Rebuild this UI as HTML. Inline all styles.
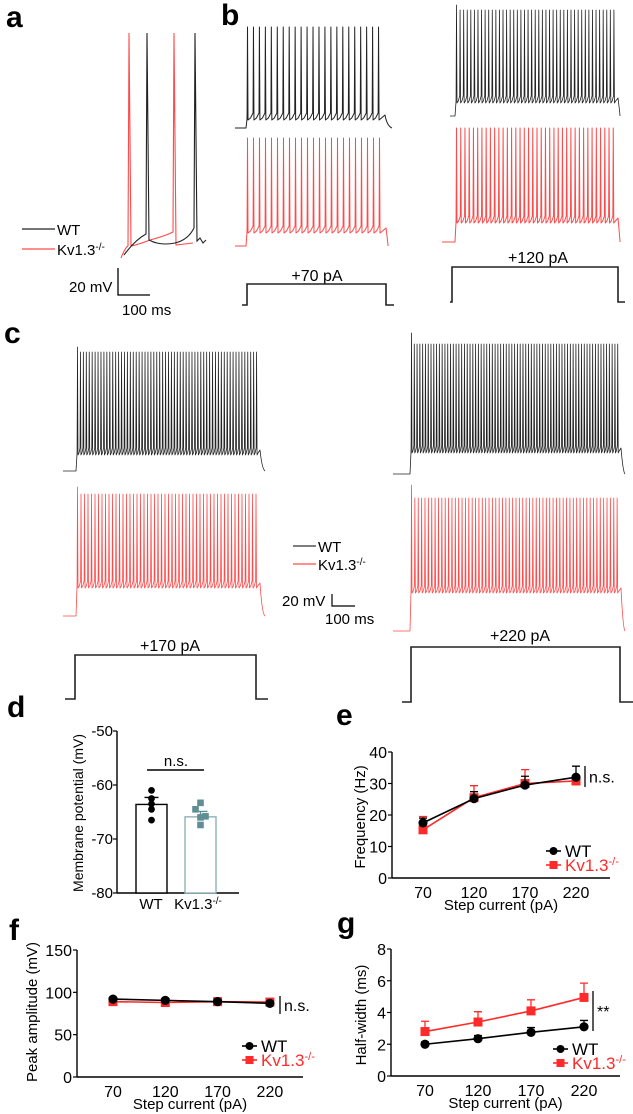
<!DOCTYPE html>
<html><head><meta charset="utf-8"><style>
html,body{margin:0;padding:0;background:#fff;}
svg{display:block;font-family:"Liberation Sans",Arial,sans-serif;}
</style></head><body>
<svg id="fig" width="633" height="1114" viewBox="0 0 633 1114" xmlns="http://www.w3.org/2000/svg">
<g font-weight="bold" font-size="30" fill="#000">
<text x="6" y="27">a</text>
<text x="221" y="25">b</text>
<text x="4" y="343">c</text>
<text x="7" y="717">d</text>
<text x="336" y="725">e</text>
<text x="9" y="940">f</text>
<text x="337" y="933">g</text>
</g>
<g font-size="15">
<line x1="22" y1="229" x2="55" y2="229" stroke="#222" stroke-width="1.3"/>
<text x="57" y="235">WT</text>
<line x1="22" y1="249" x2="55" y2="249" stroke="#ff4a4a" stroke-width="1.3"/>
<text x="57" y="255">Kv1.3<tspan dy="-5" font-size="10">-/-</tspan></text>
</g>
<g font-size="15">
<text x="69" y="292">20 mV</text>
<path d="M118,268 V295 H150" fill="none" stroke="#000" stroke-width="1.3"/>
<text x="122" y="315">100 ms</text>
</g>
<g font-size="15">
<line x1="293" y1="546" x2="316" y2="546" stroke="#333" stroke-width="1.3"/>
<text x="318" y="552">WT</text>
<line x1="293" y1="564" x2="316" y2="564" stroke="#ff4a4a" stroke-width="1.3"/>
<text x="318" y="570">Kv1.3<tspan dy="-5" font-size="10">-/-</tspan></text>
</g>
<g font-size="15">
<text x="282" y="606">20 mV</text>
<path d="M332,594 V606 H355" fill="none" stroke="#000" stroke-width="1.2"/>
<text x="325" y="624">100 ms</text>
</g>
<g font-size="16" text-anchor="middle">
<text x="317" y="281">+70 pA</text>
<text x="538" y="263">+120 pA</text>
<text x="170" y="651">+170 pA</text>
<text x="520" y="641">+220 pA</text>
</g>
<g id="traces"></g>
<g id="charts"></g>
</svg>
<script>
var traceNames = ['b-70-wt','b-70-ko','b-120-wt','b-120-ko','c-170-wt','c-170-ko','c-220-wt','c-220-ko'];
var spikeCounts = [23, 23, 45, 38, 62, 52, 75, 62];
var traceColors = ['#222','#ff4a4a','#222','#ff4a4a','#222','#ff4a4a','#222','#ff4a4a'];
var traceGeom = [
 [235,246,383,392,128,117,27,27],
 [235,246,384,388,246,230,138,138],
 [450,455,616,620,116,100,10,5],
 [442,455,616,620,242,220,128,128],
 [63,76,258,265,471,452,352,347],
 [63,76,258,265,616,585,494,487],
 [393,410,619,625,474,450,344,333],
 [393,410,619,625,631,590,498,485]
];
var stimNames = ['stim-70','stim-120','stim-170','stim-220'];
var stimGeom = [[242,247,386,394,305,284],[450,452,618,625,302,267],[65,75,256,268,699,655],[402,411,620,633,702,647]];

var NS='http://www.w3.org/2000/svg';
function mk(tag, attrs, parent){var e=document.createElementNS(NS,tag);for(var k in attrs)e.setAttribute(k,attrs[k]);(parent||document.getElementById('charts')).appendChild(e);return e;}
var tg=document.getElementById('traces');

traceGeom.forEach(function(g,ti){
  var x0=g[0],xs=g[1],xe=g[2],x1=g[3],base=g[4],tr=g[5],top=g[6],ft=g[7],n=spikeCounts[ti];
  var d='M'+x0+','+base+' L'+xs+','+base+' L'+(xs+1)+','+(tr+2);
  var step=(xe-xs)/n;
  for(var i=0;i<n;i++){
    var xi=xs+1.5+i*step;
    var tp=(i===0)?ft:top;
    d+=' L'+(xi-0.4).toFixed(2)+','+(tr-4)+' L'+xi.toFixed(2)+','+tp+' L'+(xi+0.5).toFixed(2)+','+(tr+3)+' L'+(xi+step*0.5).toFixed(2)+','+(tr+1);
  }
  d+=' L'+(xe+2)+','+(tr-2)+' Q'+(xe+4)+','+(base-2)+' '+x1+','+base;
  var p=mk('path',{d:d,fill:'none',stroke:traceColors[ti],'stroke-width':n>40?0.8:1,'stroke-linejoin':'round'},tg);
  
  
});
stimGeom.forEach(function(s,i){
  var p=mk('path',{d:'M'+s[0]+','+s[4]+' H'+s[1]+' V'+s[5]+' H'+s[2]+' V'+s[4]+' H'+s[3],fill:'none',stroke:'#222','stroke-width':1.6},tg);
  
  
});

var aBlack='M124,255 Q135,240 146,234 L147,33 L149,240 Q160,246 175,243 Q188,240 194,228 L195,33 L197,241 L200,238 L203,243 L206,240';
var aRed='M121,258 Q125,248 128,246 L129,33 L131,246 Q137,245 150,240 Q165,236 173,232 L174,33 L176,245 L193,243';
var pa=mk('path',{d:aRed,fill:'none',stroke:'#ff4a4a','stroke-width':1.1},tg);


var pb=mk('path',{d:aBlack,fill:'none',stroke:'#222','stroke-width':1.1},tg);



var dGroups = ['WT','Kv1.3'];
var dMeans = [-63.6, -65.9];
var dSem = [1.3, 1.0];
var dWtPoints = [-61, -62.5, -63.5, -64.5, -66.5];
var dKoPoints = [-63.3, -64.5, -65.8, -66, -67.4];
var dTicks = [-50, -60, -70, -80];

var cats = [70, 120, 170, 220];
var eWt = [17.5, 25.2, 29.5, 32];
var eWtErr = [1.5, 2.2, 2.8, 3.5];
var eKo = [15.3, 25.5, 30, 30.8];
var eKoErr = [4.2, 3.8, 4.4, 1.5];
var eTicks = [0, 10, 20, 30, 40];
var fWt = [92, 90.5, 89, 87];
var fWtErr = [2, 2, 2, 2.5];
var fKo = [89, 88, 89, 88.5];
var fKoErr = [3, 2.5, 3, 3];
var fTicks = [0, 50, 100, 150];
var gWt = [2.0, 2.35, 2.75, 3.1];
var gWtErr = [0.15, 0.2, 0.3, 0.4];
var gKo = [2.8, 3.4, 4.1, 4.95];
var gKoErr = [0.65, 0.65, 0.7, 0.9];
var gTicks = [0, 2, 4, 6, 8];

var RED='#ff2a2a';
(function(){
  var ax=117, y=function(v){return 731+(-50-v)*5.4;};
  var g=mk('g',{});
  
  
  var yl=mk('line',{x1:ax,y1:y(-50),x2:ax,y2:y(-80),stroke:'#000','stroke-width':1.4},g);
  
  
  var xl=mk('line',{x1:ax,y1:y(-80),x2:239,y2:y(-80),stroke:'#000','stroke-width':1.4},g);
  
  
  dTicks.forEach(function(t){
    mk('line',{x1:ax-4,y1:y(t),x2:ax,y2:y(t),stroke:'#000','stroke-width':1.2},g);
    var tx=mk('text',{x:ax-4,y:y(t)+5,'font-size':15,'text-anchor':'end'},g);
    tx.textContent=String(t);
    
    
  });
  var bx=[136,185], bcol=['#000','#8fb2b6'], pcol=['#000','#5f8f94'];
  dMeans.forEach(function(m,i){
    var r=mk('rect',{x:bx[i],y:y(m),width:31,height:y(-80)-y(m),fill:'#fff',stroke:bcol[i],'stroke-width':1.4},g);
    
    
    var cx=bx[i]+15.5;
    mk('path',{d:'M'+cx+','+y(m)+' V'+y(m+dSem[i])+' M'+(cx-7)+','+y(m+dSem[i])+' H'+(cx+7),stroke:pcol[i],'stroke-width':1.4,fill:'none'},g);
  });
  dWtPoints.forEach(function(v){
    var c=mk('circle',{cx:151.5,cy:y(v),r:3.4,fill:'#000'},g);
    
    
  });
  dKoPoints.forEach(function(v,i){
    var c=mk('rect',{x:200.5-3.3+[0,-5,5,0,0][i],y:y(v)-3.3,width:6.6,height:6.6,fill:'#5f8f94'},g);
    
    
  });
  var ns=mk('line',{x1:147,y1:770,x2:204,y2:770,stroke:'#000','stroke-width':1.4},g);
  
  
  var nt=mk('text',{x:176,y:766,'font-size':15,'text-anchor':'middle'},g);
  nt.textContent='n.s.';
  
  
  var l1=mk('text',{x:151,y:909,'font-size':15,'text-anchor':'middle'},g);
  l1.textContent='WT';
  
  
  var l2=mk('text',{x:198,y:909,'font-size':15,'text-anchor':'middle'},g);
  l2.innerHTML='Kv1.3<tspan dy="-5" font-size="10">-/-</tspan>';
  
  
  var yt=mk('text',{x:0,y:0,'font-size':14,'text-anchor':'middle',transform:'translate(83,813) rotate(-90)'},g);
  yt.textContent='Membrane potential (mV)';
  
  
})();

function lineChart(p){
  var g=mk('g',{});
  
  
  var y=function(v){return p.y0-v*p.ys;};
  var x=function(c){return p.x70+(c-70)/50*p.dx;};
  var ya=mk('line',{x1:p.ax,y1:y(p.ticks[p.ticks.length-1]),x2:p.ax,y2:p.y0,stroke:'#000','stroke-width':1.4},g);
  
  
  var xa=mk('line',{x1:p.ax,y1:p.y0,x2:p.xend,y2:p.y0,stroke:'#000','stroke-width':1.4},g);
  
  
  p.ticks.forEach(function(t){
    mk('line',{x1:p.ax-4,y1:y(t),x2:p.ax,y2:y(t),stroke:'#000','stroke-width':1.2},g);
    var tx=mk('text',{x:p.ax-5,y:y(t)+6,'font-size':16,'text-anchor':'end'},g);
    tx.textContent=t;
    
    
  });
  cats.forEach(function(c){
    var tx=mk('text',{x:x(c),y:p.y0+20,'font-size':16,'text-anchor':'middle'},g);
    tx.textContent=c;
    
    
  });
  var xt=mk('text',{x:(p.ax+p.xend)/2,y:p.y0+32,'font-size':15,'text-anchor':'middle'},g);
  xt.textContent='Step current (pA)';
  
  
  var yt=mk('text',{x:0,y:0,'font-size':15,'text-anchor':'middle',transform:'translate('+p.tx+','+p.ty+') rotate(-90)'},g);
  yt.textContent=p.ytitle;
  
  
  [[p.ko,p.koErr,RED,'ko'],[p.wt,p.wtErr,'#000','wt']].forEach(function(s){
    var pts=s[0].map(function(v,i){return x(cats[i])+','+y(v);}).join(' ');
    var pl=mk('polyline',{points:pts,fill:'none',stroke:s[2],'stroke-width':1.6},g);
    
    
    s[0].forEach(function(v,i){
      var cx=x(cats[i]), cy=y(v), ey=y(v+s[1][i]);
      var eb=mk('path',{d:'M'+cx+','+cy+' V'+ey+' M'+(cx-4)+','+ey+' H'+(cx+4),stroke:s[2],'stroke-width':1.3,fill:'none'},g);
      
      
      var m = s[3]==='wt' ? mk('circle',{cx:cx,cy:cy,r:4.6,fill:'#000'},g) : mk('rect',{x:cx-4.5,y:cy-4.5,width:9,height:9,fill:RED},g);
      
      
    });
  });
  var sb=mk('line',{x1:p.sx,y1:p.sy1,x2:p.sx,y2:p.sy2,stroke:'#000','stroke-width':1.3},g);
  
  
  var st=mk('text',{x:p.sx+4,y:(p.sy1+p.sy2)/2+6,'font-size':16},g);
  st.textContent=p.sig;
  
  
  var lg=mk('g',{},g);
  
  
  mk('line',{x1:p.lx,y1:p.ly,x2:p.lx+15,y2:p.ly,stroke:'#000','stroke-width':1.6},lg);
  mk('circle',{cx:p.lx+7.5,cy:p.ly,r:4,fill:'#000'},lg);
  var t1=mk('text',{x:p.lx+19,y:p.ly+6,'font-size':17},lg);
  t1.textContent='WT';
  mk('line',{x1:p.lx,y1:p.ly+14,x2:p.lx+15,y2:p.ly+14,stroke:RED,'stroke-width':1.6},lg);
  mk('rect',{x:p.lx+3.5,y:p.ly+10,width:8,height:8,fill:RED},lg);
  var t2=mk('text',{x:p.lx+19,y:p.ly+20,'font-size':17,fill:RED},lg);
  t2.innerHTML='Kv1.3<tspan dy="-6" font-size="11">-/-</tspan>';
}
lineChart({name:'panel-e-frequency-chart',prefix:'e',ax:392,y0:878,ys:3.15,x70:423,dx:51,xend:610,ticks:eTicks,wt:eWt,wtErr:eWtErr,ko:eKo,koErr:eKoErr,ytitle:'Frequency (Hz)',tx:365,ty:817,sx:585,sy1:766,sy2:787,sig:'n.s.',lx:546,ly:851});
lineChart({name:'panel-f-peak-amplitude-chart',prefix:'f',ax:77,y0:1077,ys:127/150,x70:113,dx:52.3,xend:303,ticks:fTicks,wt:fWt,wtErr:fWtErr,ko:fKo,koErr:fKoErr,ytitle:'Peak amplitude (mV)',tx:37,ty:1012,sx:280,sy1:996,sy2:1014,sig:'n.s.',lx:242,ly:1046});
lineChart({name:'panel-g-half-width-chart',prefix:'g',ax:391,y0:1076,ys:127/8,x70:425,dx:53,xend:620,ticks:gTicks,wt:gWt,wtErr:gWtErr,ko:gKo,koErr:gKoErr,ytitle:'Half-width (ms)',tx:366,ty:1015,sx:593,sy1:991,sy2:1031,sig:'**',lx:553,ly:1049});
</script>
</body></html>
